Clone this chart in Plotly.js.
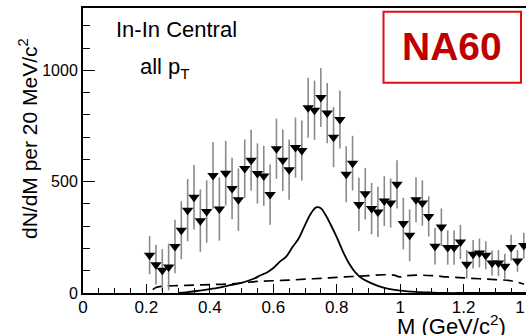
<!DOCTYPE html>
<html>
<head>
<meta charset="utf-8">
<script src="https://cdn.plot.ly/plotly-3.0.1.min.js"></script>
<style>
html,body{margin:0;padding:0;overflow:hidden;background:#fff;}
#chart{width:547px;height:335px;}
</style>
</head>
<body>
<div id="chart"></div>
<script>
// Data points (inverted triangles) — bin centres in GeV/c^2
const massBins = [0.21,0.23,0.25,0.27,0.29,0.31,0.33,0.35,0.37,0.39,0.41,0.43,0.45,0.47,0.49,0.51,0.53,0.55,0.57,0.59,
  0.61,0.63,0.65,0.67,0.69,0.71,0.73,0.75,0.77,0.79,0.81,0.83,0.85,0.87,0.89,0.91,0.93,0.95,0.97,0.99,
  1.01,1.03,1.05,1.07,1.09,1.11,1.13,1.15,1.17,1.19,1.21,1.23,1.25,1.27,1.29,1.31,1.33,1.35,1.37,1.39];
const counts = [170,127,102,117,209,282,372,430,325,366,528,377,538,469,419,559,596,537,526,442,
  648,596,554,653,640,832,821,878,808,700,779,533,583,398,446,379,364,413,404,488,
  312,259,419,404,344,210,296,204,204,229,129,174,180,169,135,135,120,204,144,213];
const errors = [86,90,95,105,120,130,140,145,140,140,150,142,145,138,140,131,137,135,135,135,
  135,138,135,135,135,135,133,133,135,135,130,126,123,120,116,115,113,112,110,108,
  116,116,101,102,90,82,84,77,77,77,64,64,65,63,56,58,56,58,49,58];

// Solid curve (rho)
const rhoM = [0.30,0.33,0.36,0.39,0.43,0.46,0.50,0.54,0.56,0.58,0.60,0.62,0.64,0.66,0.68,0.70,0.72,0.735,0.75,0.765,
  0.78,0.80,0.82,0.84,0.86,0.88,0.90,0.93,0.96,1.00,1.05,1.10,1.15,1.20,1.30,1.40];
const rhoY = [0,4,9,15,24,34,46,65,80,92,112,140,162,205,245,305,360,385,381,350,
  310,251,185,130,90,65,50,32,20,11,5,2,0,0,0,0];

// Dashed curve
const dashM = [0.22,0.23,0.25,0.30,0.35,0.40,0.45,0.50,0.55,0.60,0.65,0.70,0.75,0.80,0.85,0.90,0.95,0.98,1.00,1.02,
  1.05,1.10,1.15,1.20,1.25,1.30,1.35,1.39];
const dashY = [15,25,30,33,35,38,40,45,52,55,58,62,66,70,74,78,82,80,72,78,
  80,78,72,68,64,60,55,40];

const xTicks = [0,0.2,0.4,0.6,0.8,1,1.2,1.4];
const xTickText = ["0","0.2","0.4","0.6","0.8","1","1.2","1.4"];
const yTicks = [0,500,1000];
const yTickText = ["0","500","1000"];

const FONT = "Liberation Sans, Arial, sans-serif";

const traces = [
  {x: dashM, y: dashY, mode: 'lines', type: 'scatter',
   line: {color: '#000', width: 1.7, dash: '10px,6px', shape: 'spline'}, hoverinfo: 'skip'},
  {x: rhoM, y: rhoY, mode: 'lines', type: 'scatter',
   line: {color: '#000', width: 1.8, shape: 'spline'}, hoverinfo: 'skip'},
  {x: massBins, y: counts, mode: 'markers', type: 'scatter',
   marker: {symbol: 'triangle-down', size: 10, color: '#000'},
   error_y: {type: 'data', array: errors, visible: true, color: '#8a8a8a', thickness: 1.6, width: 0}}
];

const L = 83, T = 8, PW = 444, PH = 285;
function px(x){ return (x - L) / PW; }
function py(y){ return (T + PH - y) / PH; }

const layout = {
  width: 547, height: 335,
  margin: {l: L, r: 547 - L - PW, t: T, b: 335 - T - PH},
  paper_bgcolor: '#fff', plot_bgcolor: '#fff',
  showlegend: false,
  font: {family: FONT, color: '#000', size: 16},
  xaxis: {
    range: [0, 1.4], showgrid: false, zeroline: false,
    showline: true, linecolor: '#000', linewidth: 2, mirror: true,
    ticks: 'inside', ticklen: 9, tickwidth: 1, tickcolor: '#000',
    tickmode: 'array', tickvals: xTicks, ticktext: xTickText,
    ticklabelstandoff: -2,
    tickfont: {family: FONT, size: 17, color: '#000'},
    minor: {dtick: 0.05, ticks: 'inside', ticklen: 5, tickcolor: '#000', tickwidth: 1, showgrid: false}
  },
  yaxis: {
    range: [0, 1280], showgrid: false, zeroline: false,
    showline: true, linecolor: '#000', linewidth: 2, mirror: true,
    ticks: 'inside', ticklen: 12, tickwidth: 1, tickcolor: '#000',
    tickmode: 'array', tickvals: yTicks, ticktext: yTickText,
    tickfont: {family: FONT, size: 16, color: '#000'},
    minor: {dtick: 100, ticks: 'inside', ticklen: 7, tickcolor: '#000', tickwidth: 1, showgrid: false}
  },
  shapes: [
    {type: 'rect', xref: 'paper', yref: 'paper',
     x0: px(383.5), x1: px(521), y0: py(82.7), y1: py(11.7),
     line: {color: '#e01010', width: 2}, fillcolor: '#fff', layer: 'above'}
  ],
  annotations: [
    {text: 'NA60', xref: 'paper', yref: 'paper', x: px(452), y: py(47), showarrow: false,
     xanchor: 'center', yanchor: 'middle',
     font: {family: FONT, size: 39, color: '#c00000', weight: 'bold'}},
    {text: 'In-In Central', xref: 'paper', yref: 'paper', x: px(176), y: py(29), showarrow: false,
     xanchor: 'center', yanchor: 'middle', font: {family: FONT, size: 22, color: '#000'}},
    {text: 'all p<sub>T</sub>', xref: 'paper', yref: 'paper', x: px(138), y: py(68), showarrow: false,
     xanchor: 'left', yanchor: 'middle', font: {family: FONT, size: 22, color: '#000'}},
    {text: 'dN/dM per 20 MeV/c<sup>2</sup>', xref: 'paper', yref: 'paper', x: px(28), y: py(139),
     showarrow: false, textangle: -90, xanchor: 'center', yanchor: 'middle',
     font: {family: FONT, size: 21, color: '#000'}},
    {text: 'M (GeV/c<sup>2</sup>)', xref: 'paper', yref: 'paper', x: px(451), y: py(325),
     showarrow: false, xanchor: 'center', yanchor: 'middle',
     font: {family: FONT, size: 22, color: '#000'}}
  ]
};

Plotly.newPlot('chart', traces, layout, {staticPlot: true, displayModeBar: false});
</script>
</body>
</html>
